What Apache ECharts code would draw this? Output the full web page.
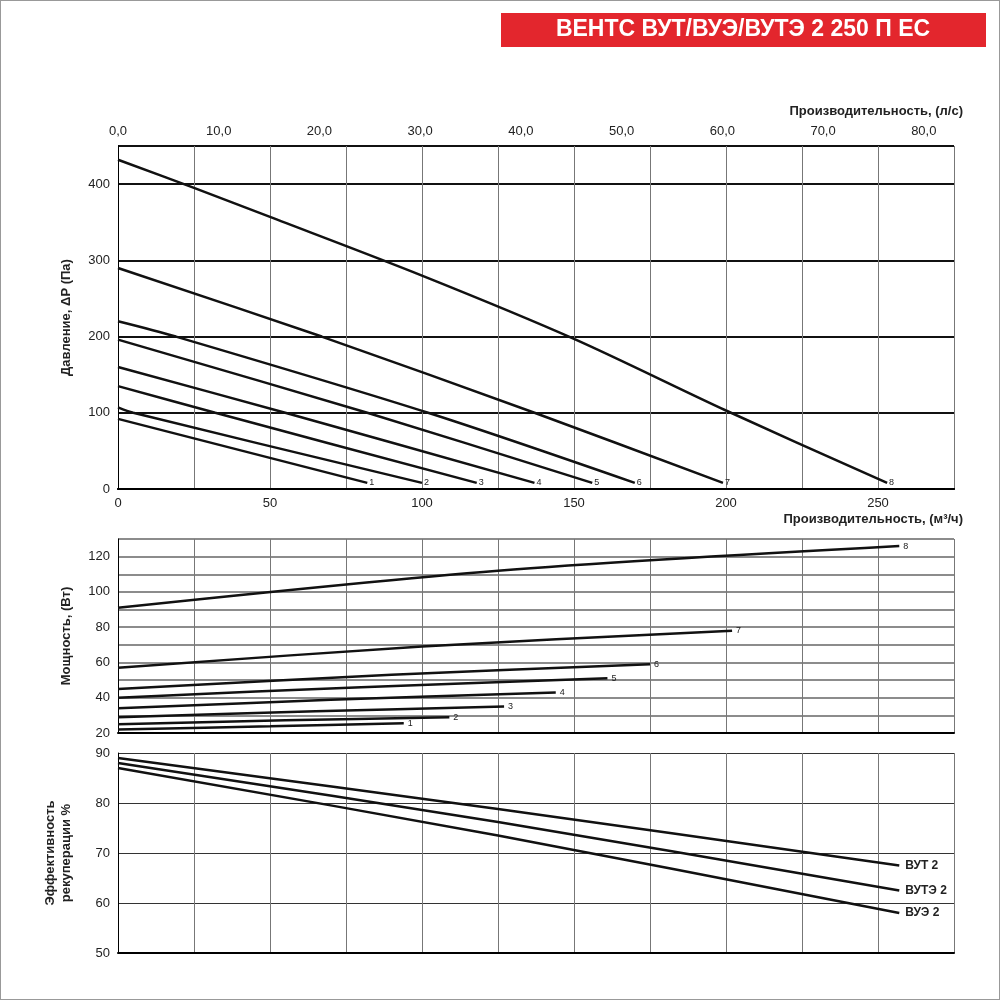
<!DOCTYPE html>
<html><head><meta charset="utf-8">
<script src="https://cdn.jsdelivr.net/npm/echarts@6/dist/echarts.min.js"></script>
<style>body{margin:0;background:#fff}#c{width:1000px;height:1000px;box-sizing:border-box;border:1px solid #999}</style>
</head><body><div id="c"></div>
<script>
// Давление (м³/ч, Па)
const pressure = {
  '1': [[0,92],[82,8]],
  '2': [[0,107],[5,100],[100,8]],
  '3': [[0,135],[32,100],[118,8]],
  '4': [[0,160],[55,100],[137,8]],
  '5': [[0,196],[82,100],[156,8]],
  '6': [[0,220],[19,200],[102,100],[170,8]],
  '7': [[0,290],[67,200],[137,100],[199,8]],
  '8': [[0,432],[25,395],[50,357],[100,280],[150,197],[200,103],[253,8]]
};
// Мощность (м³/ч, Вт)
const power = {
  '1': [[0,22],[50,23.8],[94,25.5]],
  '2': [[0,25],[55,27.2],[109,29]],
  '3': [[0,29],[65,32.3],[127,35]],
  '4': [[0,34],[70,38.8],[144,43]],
  '5': [[0,40],[80,46],[161,51]],
  '6': [[0,45],[90,53],[175,59]],
  '7': [[0,57],[100,69],[202,78]],
  '8': [[0,91],[125,112],[257,126]]
};
// Эффективность рекуперации (м³/ч, %)
const efficiency = {
  'ВУТ 2': [[0,89],[125,78.8],[257,67.5]],
  'ВУТЭ 2': [[0,88],[125,76.2],[257,62.5]],
  'ВУЭ 2': [[0,87],[125,73.5],[257,58]]
};

const chart = echarts.init(document.getElementById('c'));
const font = 'Liberation Sans, Arial';
const lineCol = '#111';
const grids = [
  {left:117,right:45,top:145,height:343},
  {left:117,right:45,top:538,height:194},
  {left:117,right:45,top:752,height:200}
];
const vGrid = {show:true,lineStyle:{color:'#777',width:1}};
function mX(gi, labels){
  return {type:'value',gridIndex:gi,min:0,max:275,interval:25,
    axisLine:{show:true,onZero:false,lineStyle:{color:'#000',width:2}},axisTick:{show:false},
    axisLabel:{show:labels,fontFamily:font,fontSize:13,color:'#222',formatter:v=>v%50===0?v:''},
    splitLine:vGrid};
}
const xAxis = [
  mX(0,true),
  {type:'value',gridIndex:0,position:'top',min:0,max:83,interval:10,
    axisLine:{show:true,lineStyle:{color:'#000',width:2}},axisTick:{show:false},splitLine:{show:false},
    axisLabel:{fontFamily:font,fontSize:13,color:'#222',showMaxLabel:false,formatter:v=>v.toFixed(1).replace('.',',')}},
  mX(1,false), mX(2,false)
];
function yAx(gi,min,max,interval,name,fmt,split){
  return {type:'value',gridIndex:gi,min,max,interval,name,nameLocation:'middle',nameGap:44,
    nameTextStyle:{fontFamily:font,fontWeight:'bold',fontSize:13,color:'#222',lineHeight:16},
    axisLine:{show:true,lineStyle:{color:'#000',width:1}},axisTick:{show:false},
    axisLabel:{fontFamily:font,fontSize:13,color:'#222',formatter:fmt},splitLine:split};
}
const yAxis = [
  yAx(0,0,450,100,'Давление, ΔP (Па)',v=>v<=400?v:'',{show:true,lineStyle:{color:'#111',width:2}}),
  yAx(1,20,130,10,'Мощность, (Вт)',v=>v%20===0?v:'',{show:true,lineStyle:{color:'#666',width:1.5}}),
  yAx(2,50,90,10,'Эффективность\nрекуперации %',v=>v,{show:true,lineStyle:{color:'#333',width:1}})
];
const series = [];
function add(obj, xi, yi, lblSize, bold, dx){
  Object.keys(obj).forEach(k => series.push({type:'line',name:k,xAxisIndex:xi,yAxisIndex:yi,
    data:obj[k],smooth:0.3,symbol:'none',lineStyle:{color:lineCol,width:2.5},
    endLabel:{show:true,formatter:k,fontFamily:font,fontSize:lblSize,fontWeight:bold?'bold':'normal',color:'#222',distance:dx}}));
}
add(pressure,0,0,9,false,2);
add(power,2,1,9,false,4);
add(efficiency,3,2,12,true,6);

const nameFont = 'bold 13px Liberation Sans, Arial';
chart.setOption({
  animation:false,
  grid:grids,
  xAxis, yAxis, series,
  graphic:[
    {type:'rect',shape:{x:500,y:12,width:485,height:34},style:{fill:'#e3262d'}},
    {type:'text',x:742,y:29,style:{text:'ВЕНТС ВУТ/ВУЭ/ВУТЭ 2 250 П ЕС',fill:'#fff',font:'bold 23px Liberation Sans, Arial',align:'center',verticalAlign:'middle'}},
    {type:'text',x:962,y:110,style:{text:'Производительность, (л/с)',fill:'#222',font:nameFont,align:'right',verticalAlign:'middle'}},
    {type:'text',x:962,y:518,style:{text:'Производительность, (м³/ч)',fill:'#222',font:nameFont,align:'right',verticalAlign:'middle'}}
  ]
});
</script></body></html>
